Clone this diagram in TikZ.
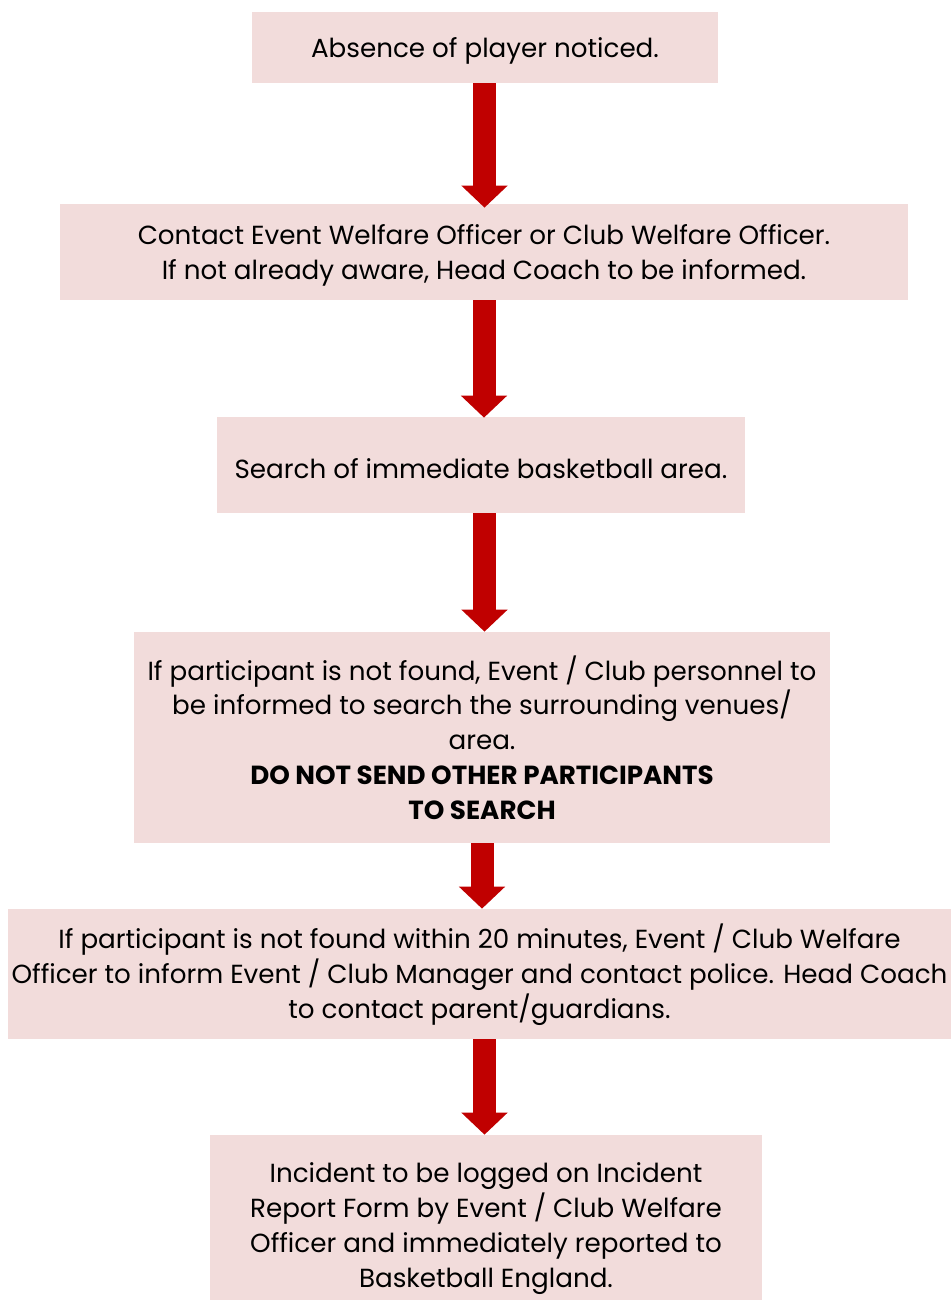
\documentclass[tikz,border=0pt]{standalone}
\usepackage{fontspec}
\setmainfont{Poppins}
\usetikzlibrary{arrows.meta,positioning,calc}

\definecolor{boxpink}{HTML}{F2DCDB}
\definecolor{arrowred}{HTML}{C00000}

\begin{document}
\begin{tikzpicture}[
		stepbox/.style={rectangle, fill=boxpink, draw=none, align=center, inner sep=0pt,
			font=\fontsize{14.9}{19.8}\selectfont},
		flow/.style={draw=arrowred, line width=0.46cm, -{Triangle[width=0.9cm,length=0.44cm]}, arrowred}
	]
		\useasboundingbox (0,0) rectangle (19.02,-26.04);
		
		% Draw flowchart boxes
		\node[stepbox, minimum width=9.32cm, minimum height=1.42cm] (absent) at (9.70,-0.95) {\rule{0pt}{15pt}Absence of player noticed.};
		\node[stepbox, minimum width=16.96cm, minimum height=1.92cm] (contact) at (9.68,-5.04) {\rule{0pt}{15pt}Contact Event Welfare Officer or Club Welfare Officer.\\If not already aware, Head Coach to be informed.};
		\node[stepbox, minimum width=10.56cm, minimum height=1.92cm] (search) at (9.62,-9.30) {\rule{0pt}{15pt}Search of immediate basketball area.};
		\node[stepbox, minimum width=13.92cm, minimum height=4.22cm] (venues) at (9.64,-14.75) {\rule{0pt}{13pt}If participant is not found, Event / Club personnel to\\be informed to search the surrounding venues/\\area.\\\textbf{DO NOT SEND OTHER PARTICIPANTS}\\\textbf{TO SEARCH}};
		\node[stepbox, minimum width=18.86cm, minimum height=2.6cm] (police) at (9.59,-19.48) {\rule{0pt}{15pt}If participant is not found within 20 minutes, Event / Club Welfare\\Officer to inform Event / Club Manager and contact police. Head Coach\\to contact parent/guardians.};
		\node[stepbox, minimum width=11.04cm, minimum height=3.3cm] (logged) at (9.72,-24.35) {\rule{0pt}{24pt}Incident to be logged on Incident\\Report Form by Event / Club Welfare\\Officer and immediately reported to\\Basketball England.};
		
		% Flow arrows
		\draw[flow] ($(absent.south)+(-0.01,0)$) -- ($(absent.south |- contact.north)+(-0.01,-0.08)$);
		\draw[flow] (contact.south) -- ($(contact.south |- search.north)+(0,-0.02)$);
		\draw[flow] ($(search.south)+(0.07,0)$) -- ($(search.south |- venues.north)+(0.07,0)$);
		\draw[flow] (venues.south) -- (venues.south |- police.north);
		\draw[flow] ($(police.south)+(0.1,0)$) -- ($(police.south |- logged.north)+(0.1,0)$);
	\end{tikzpicture}
\end{document}
